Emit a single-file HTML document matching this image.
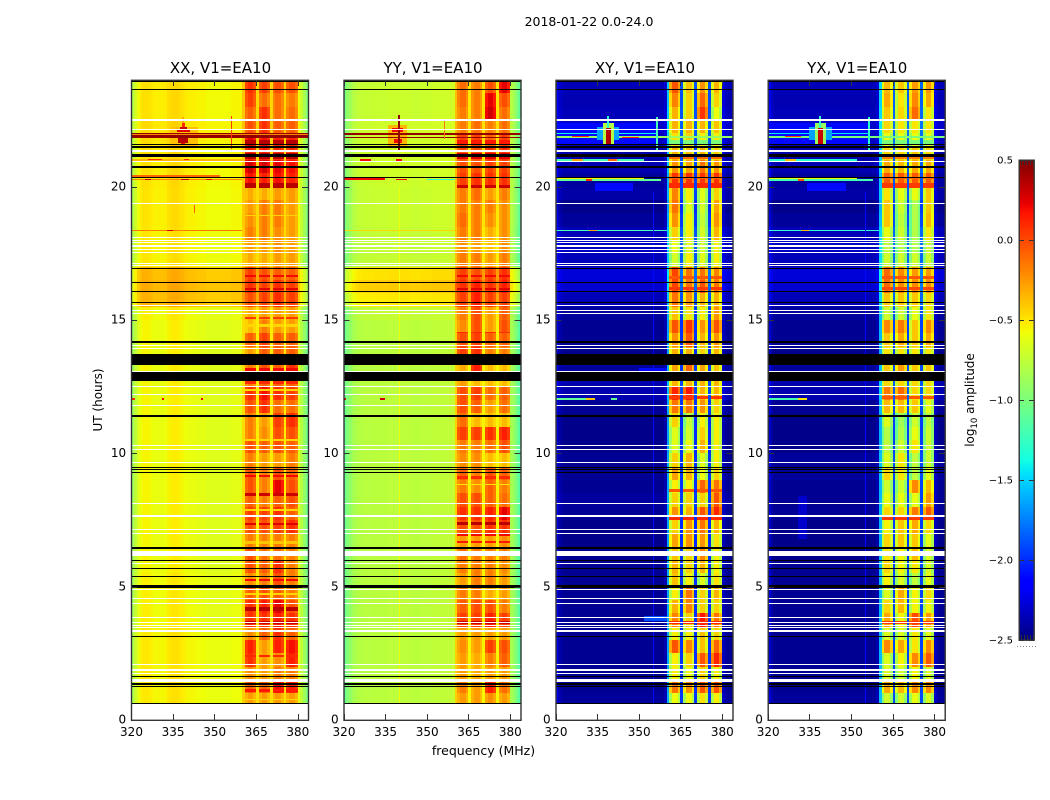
<!DOCTYPE html>
<html lang="en">
<head>
<meta charset="utf-8">
<title>2018-01-22 0.0-24.0</title>
<style>
html,body{margin:0;padding:0;background:#fff;width:1050px;height:800px;overflow:hidden}
svg{display:block}
text{font-family:"DejaVu Sans","Liberation Sans",sans-serif;fill:#000}
</style>
</head>
<body>
<svg id="chart" xmlns="http://www.w3.org/2000/svg" width="1050" height="800" viewBox="0 0 1050 800">
  <text x="589" y="26" text-anchor="middle" font-size="12.5">2018-01-22 0.0-24.0</text>
  <text x="483.5" y="755" text-anchor="middle" font-size="12.5">frequency (MHz)</text>
  <text transform="translate(102 400) rotate(-90)" text-anchor="middle" font-size="12">UT (hours)</text>
  <text transform="translate(974 400) rotate(-90)" text-anchor="middle" font-size="12">log<tspan font-size="8.5" dy="3">10</tspan><tspan dy="-3"> amplitude</tspan></text>
  <g id="panels"></g>
  <g id="colorbar"></g>
</svg>
<script>
const panelTitles = ['XX, V1=EA10','YY, V1=EA10','XY, V1=EA10','YX, V1=EA10'];
const panelKeys = ['xx','yy','xy','yx'];
const xTicks = [320,335,350,365,380];
const yTicks = [0,5,10,15,20];
const colorbarTicks = [0.5,0,-0.5,-1,-1.5,-2,-2.5];
const bandStarts = [361,366,371,376];

/* log10 amplitude per 1 MHz column, 320..383 (band columns are replaced by the band tables) */
const xxBase = [-.85,-.74,-.62,-.56,-.53,-.53,-.54,-.56,-.58,-.58,-.58,-.58,-.57,-.53,-.51,-.5,-.5,-.52,-.54,-.56,-.58,-.58,-.58,-.59,-.6,-.6,-.6,-.62,-.62,-.62,-.62,-.62,-.62,-.62,-.62,-.62,-.6,-.6,-.6,-.6,-.45,0,0,0,0,-.5,0,0,0,0,-.5,0,0,0,0,-.5,0,0,0,0,-.62,-.76,-.9,-1.02];
const yyBase = [-1.05,-.95,-.88,-.82,-.78,-.76,-.76,-.75,-.75,-.75,-.75,-.74,-.74,-.74,-.74,-.74,-.73,-.73,-.73,-.73,-.73,-.73,-.73,-.73,-.74,-.74,-.74,-.74,-.73,-.73,-.73,-.73,-.72,-.72,-.72,-.72,-.72,-.72,-.72,-.7,-.4,0,0,0,0,-.52,0,0,0,0,-.52,0,0,0,0,-.52,0,0,0,0,-.8,-.9,-1,-1.1];
const xyBase = [-2.25,-2.4,-2.45,-2.47,-2.47,-2.47,-2.47,-2.47,-2.47,-2.47,-2.47,-2.47,-2.47,-2.47,-2.47,-2.47,-2.47,-2.47,-2.47,-2.47,-2.47,-2.47,-2.47,-2.47,-2.47,-2.47,-2.47,-2.47,-2.47,-2.47,-2.47,-2.47,-2.47,-2.47,-2.47,-2.47,-2.47,-2.47,-2.47,-2.4,-1.65,0,0,0,0,-2,0,0,0,0,-2,0,0,0,0,-2,0,0,0,0,-2.35,-2.45,-2.47,-2.47];
const yxBase = [-2.3,-2.42,-2.47,-2.47,-2.47,-2.47,-2.47,-2.47,-2.47,-2.47,-2.47,-2.47,-2.47,-2.47,-2.47,-2.47,-2.47,-2.47,-2.47,-2.47,-2.47,-2.47,-2.47,-2.47,-2.47,-2.47,-2.47,-2.47,-2.47,-2.47,-2.47,-2.47,-2.47,-2.47,-2.47,-2.47,-2.47,-2.47,-2.47,-2.4,-1.6,0,0,0,0,-1.95,0,0,0,0,-1.95,0,0,0,0,-1.95,0,0,0,0,-2.35,-2.45,-2.47,-2.47];

/* offset of each 1 MHz column inside a band */
const xxShape = [-.04,.04,.04,-.06];
const yyShape = [-.04,.04,.04,-.06];
const xyShape = [-.12,.17,.17,-.08];
const yxShape = [-.18,.1,.1,-.12];

/* background offsets per half hour, top row = 23.5-24 h, last row = 0-0.5 h */
const xxBgOffset = [.05,.05,.05,.07,.07,.05,.05,.05,.04,.04,.04,.03,.03,.03,.2,.22,.2,0,-.02,-.02,-.02,-.02,-.02,-.02,-.02,-.02,-.02,-.02,-.02,-.02,-.02,-.02,-.02,-.02,-.02,-.02,-.02,0,0,0,0,.02,.02,.02,.02,.02,.02,0];
const yyBgOffset = [.02,.02,.02,.04,.04,.04,.04,.03,.02,.02,.02,0,0,0,.25,.32,.22,0,-.03,-.03,-.03,-.03,-.03,-.03,-.03,-.03,-.03,-.03,-.03,-.03,-.03,-.03,-.03,-.03,-.03,-.03,-.03,-.03,-.03,-.03,-.03,-.03,-.03,-.03,-.03,-.03,-.03,0];
const xyBgOffset = [.12,.1,.12,.16,.14,.08,.1,.05,.07,0,.04,.12,.14,.12,.2,.18,.12,.04,.02,.02,0,.04,.09,.09,.03,0,0,0,.02,.02,.02,.05,.03,0,0,.02,.02,.02,.02,.02,.02,.02,.02,.02,.02,.02,.04,0];
const yxBgOffset = [.12,.1,.12,.16,.14,.08,.1,.05,.07,0,.04,.12,.14,.12,.2,.18,.12,.04,.02,.02,0,.04,.09,.09,.03,0,0,0,.04,.04,.02,.02,.03,0,0,0,.02,.02,.02,.02,.02,.02,.02,.02,.02,.02,.04,0];

/* band amplitudes per half hour, top row = 23.5-24 h, columns = four bands */
const xxBands = [[.05,0,-.05,-.05],[0,-.15,-.15,-.2],[-.1,.05,-.15,-.15],[-.05,.05,-.1,-.1],[.2,.15,.1,.1],[.1,.1,.05,.05],[.25,.25,.2,.15],[.15,.1,.15,.1],[-.35,-.35,-.3,-.3],[-.3,-.2,-.2,-.3],[-.25,-.2,-.2,-.3],[-.2,-.2,-.25,-.3],[-.3,-.3,-.25,-.3],[-.35,-.35,-.3,-.3],[0,-.05,-.1,-.1],[.05,0,.05,0],[-.05,0,.05,0],[-.35,-.3,-.3,-.3],[-.4,-.2,-.3,-.3],[-.1,0,-.1,-.1],[-.3,-.1,-.1,-.1],[-.2,-.05,-.1,.05],[-.2,-.1,-.1,-.1],[.05,.15,.05,0],[-.05,.05,-.15,-.15],[-.2,-.3,0,.05],[-.2,-.25,-.05,-.05],[-.05,-.1,-.05,-.1],[-.2,-.3,-.3,-.2],[-.05,-.2,-.05,-.1],[-.05,-.2,.2,-.05],[-.1,-.2,-.1,-.05],[0,0,.05,-.1],[-.05,-.05,0,.05],[-.2,-.2,-.2,-.2],[-.05,-.15,-.15,-.2],[-.05,-.1,.05,-.2],[-.25,-.2,-.05,-.2],[-.1,-.05,-.1,-.2],[.05,.1,.2,-.05],[.05,.05,.1,.05],[-.25,-.1,.05,-.1],[.1,-.3,.1,.15],[.05,-.3,-.25,.1],[-.25,-.3,-.2,-.2],[-.1,-.1,.15,.1],[-.3,-.3,-.3,-.3],[-.3,-.3,-.3,-.3]];
const yyBands = [[-.15,-.2,-.05,.2],[-.15,-.2,.2,-.05],[-.2,-.2,.25,-.15],[-.2,-.15,-.2,-.15],[0,0,-.1,0],[-.05,-.05,.05,.05],[-.05,-.05,0,0],[0,.05,.05,.05],[-.2,-.15,-.3,-.2],[-.2,-.2,-.2,-.25],[-.15,-.2,-.25,-.25],[-.2,-.2,-.35,-.25],[-.25,-.3,-.4,-.25],[-.2,-.2,-.3,-.2],[0,-.05,0,.05],[.05,.1,.05,.1],[0,.1,0,0],[-.2,-.05,-.3,-.1],[-.25,-.05,-.3,-.05],[-.05,0,-.1,-.1],[0,.05,-.2,-.2],[-.35,.1,-.4,-.4],[-.3,-.4,-.4,-.4],[-.05,0,-.15,-.1],[-.05,-.1,-.3,-.15],[-.15,-.4,-.4,-.4],[0,0,.05,.1],[-.2,-.2,-.15,-.05],[-.25,-.25,-.4,-.4],[-.1,-.2,-.05,-.1],[-.2,-.25,-.1,-.2],[-.05,-.05,-.1,-.15],[.05,.05,.1,.2],[-.05,-.05,.05,.05],[-.3,-.3,-.3,-.25],[-.15,-.2,-.2,-.2],[-.2,-.2,-.2,-.25],[-.3,-.2,-.2,-.3],[-.2,-.2,-.35,-.3],[-.1,-.05,-.05,-.2],[0,0,.1,0],[-.3,-.3,-.3,-.3],[-.25,-.3,0,-.05],[-.3,-.35,-.2,-.1],[-.3,-.35,-.3,-.3],[-.2,-.3,.1,-.15],[-.3,-.3,-.25,-.3],[-.3,-.3,-.3,-.3]];
const xyBands = [[-.2,-.55,-.4,-.5],[-.35,-.6,-.25,-.6],[-.5,-.6,-.1,-.75],[-.5,-.5,-.5,-.55],[-.65,-.6,-.7,-.7],[-.5,-.55,-.5,-.6],[-.4,-.45,-.3,-.4],[-.1,-.1,-.1,-.1],[-.35,-.7,-.8,-.6],[-.3,-.8,-.85,-.45],[-.4,-.7,-.9,-.4],[-.6,-.7,-.85,-.5],[-.75,-.8,-.85,-.7],[-.85,-.7,-.8,-.7],[-.15,-.3,-.3,-.35],[-.15,-.3,-.2,-.3],[-.3,-.4,-.5,-.5],[-.55,-.65,-.7,-.4],[-.2,-.1,-.4,-.2],[-.4,-.2,-.5,-.4],[-.5,-.5,-.6,-.5],[-.45,-.25,-.45,-.55],[-.5,-.5,-.5,-.5],[-.05,0,-.5,-.5],[-.3,-.3,-.4,-.6],[-.6,-.9,-.7,-.7],[-.8,-.85,-.6,-.7],[-.8,-.75,-.5,-.7],[-.6,-.5,-.8,-.7],[-.45,-.5,-.75,-.6],[-.7,-.7,-.25,-.3],[-.6,-.6,-.6,-.2],[-.4,-.5,-.2,-.05],[-.6,-.4,-.3,-.5],[-.45,-.4,-.4,-.65],[-.55,-.6,-.35,-.7],[-.5,-.6,-.5,-.7],[-.55,-.7,-.8,-.65],[-.7,-.3,-.6,-.5],[-.5,-.35,-.6,-.6],[-.35,-.6,0,-.3],[-.7,-.7,-.55,-.6],[-.2,-.35,-.55,-.25],[-.7,-.6,-.2,-.05],[-.7,-.75,-.6,-.7],[-.3,-.4,-.2,-.2],[-.75,-.75,-.65,-.7],[-.75,-.75,-.65,-.7]];
const yxBands = [[-.45,-.5,-.35,-.35],[-.4,-.6,-.3,-.4],[-.5,-.55,-.2,-.6],[-.55,-.6,-.6,-.6],[-.7,-.7,-.7,-.7],[-.55,-.55,-.5,-.55],[-.4,-.45,-.4,-.4],[-.15,-.15,-.15,-.15],[-.6,-.7,-.7,-.5],[-.5,-.8,-.9,-.5],[-.5,-.85,-.9,-.45],[-.7,-.8,-.9,-.6],[-.85,-.9,-.9,-.8],[-.8,-.8,-.8,-.8],[-.2,-.3,-.35,-.35],[-.2,-.3,-.3,-.3],[-.5,-.5,-.5,-.55],[-.8,-.8,-.7,-.6],[-.3,-.25,-.5,-.3],[-.5,-.4,-.5,-.4],[-.6,-.6,-.6,-.6],[-.5,-.35,-.5,-.5],[-.55,-.55,-.55,-.55],[-.25,-.2,-.55,-.55],[-.45,-.45,-.5,-.7],[-.75,-.95,-.8,-.85],[-.9,-.9,-.7,-.8],[-.85,-.8,-.6,-.8],[-.75,-.6,-.85,-.8],[-.55,-.6,-.85,-.7],[-.8,-.8,-.3,-.45],[-.7,-.7,-.7,-.35],[-.55,-.55,-.25,-.15],[-.65,-.5,-.4,-.55],[-.55,-.5,-.5,-.7],[-.6,-.65,-.45,-.75],[-.55,-.65,-.6,-.75],[-.65,-.75,-.85,-.7],[-.75,-.4,-.65,-.55],[-.55,-.45,-.65,-.65],[-.4,-.65,-.1,-.35],[-.75,-.75,-.6,-.7],[-.3,-.4,-.6,-.3],[-.75,-.65,-.3,-.15],[-.75,-.8,-.65,-.75],[-.4,-.45,-.3,-.3],[-.8,-.8,-.7,-.75],[-.8,-.8,-.7,-.75]];

/* narrow dark or bright streaks across the bands: start hour, end hour, amplitude */
const xxStreaks = [[21.6,21.75,.35],[21.05,21.25,.35],[19.96,20.12,.35],[18.9,18.95,-.45],[16.6,16.7,.2],[16.12,16.2,.25],[14.75,14.85,-.45],[15.05,15.12,.05],[13.1,13.2,.2],[12.6,12.7,.1],[12.35,12.4,-.45],[10.45,10.55,-.45],[9.1,9.2,.2],[8.4,8.5,.3],[7.85,7.9,-.45],[7.3,7.4,.25],[6.6,6.7,-.4],[5.2,5.3,.2],[4.7,4.76,-.45],[4.1,4.25,.35],[3.6,3.7,.3],[2.35,2.45,.1],[1.05,1.15,.15],[.75,.8,-.45]];
const yyStreaks = [[21.6,21.75,.15],[21.05,21.25,.25],[19.96,20.06,.3],[16.6,16.7,.2],[16.12,16.2,.25],[14.5,14.56,.1],[9.05,9.15,.1],[8.8,8.86,-.5],[7.3,7.42,.35],[7.6,7.7,.3],[6.9,6.96,.2],[6.65,6.72,.15],[3.6,3.72,.3]];
const xyStreaks = [[21.6,21.75,-1],[21.05,21.2,-.1],[20.3,20.38,-.1],[19.96,20.12,.1],[16.55,16.65,-.05],[16.12,16.22,.05],[12.05,12.15,.05],[8.55,8.65,-.05],[7.5,7.6,.1],[3.6,3.72,.1]];
const yxStreaks = [[21.6,21.75,-1],[21.05,21.2,-.15],[20.3,20.38,-.1],[19.96,20.12,.05],[16.55,16.65,-.05],[16.12,16.22,0],[12.05,12.15,-.05],[7.5,7.6,.05],[3.6,3.72,.05]];

/* interference boxes: start hour, end hour, start MHz, end MHz, amplitude */
const xxRfi = [[21.5,22.25,334,344,-.38],[21.81,22.03,320,384,.45],[21.93,21.97,320,384,-.2],[22.05,22.15,336.5,341.2,.25],[22.15,22.25,337.5,340.2,.3],[22.25,22.4,338.3,339.3,.1],[22.4,22.6,338.5,339,-.3],[21.65,21.81,337,340.6,.35],[21.55,21.65,338,339.5,.2],[21.4,22.65,356.1,356.5,.05],[20.98,21.02,320,360,-.35],[21,21.03,326,331,.1],[21,21.03,339,341,.1],[20.25,20.29,320,360,-.2],[20.25,20.3,325,327,.3],[20.25,20.3,338,341,.3],[20.25,20.3,347,349,.2],[20.38,20.42,320,352,-.1],[18.33,18.39,320,360,-.15],[18.33,18.39,333,335,.25],[12,12.06,320,321.5,.1],[12,12.06,331,332,.2],[12,12.06,345,346,.2],[19,19.3,342.6,342.9,-.1]];
const yyRfi = [[21.5,22.3,336,343,-.35],[21.93,22.03,320,384,.45],[21.81,21.88,320,384,.45],[22.05,22.2,337.5,341.5,.2],[21.65,21.8,338,341,.2],[21.3,22.7,339.6,340.3,.45],[21.8,22.5,356.1,356.7,-.15],[20.98,21.02,326,330,.2],[20.98,21.02,339,341,.2],[20.25,20.32,320,335,.2],[20.25,20.3,339,343,.2],[20.25,20.29,350,360,-1.3],[18.33,18.39,320,360,-.45],[12,12.06,320,321,.3],[12,12.06,333,335,.3],[0.63,20,340,340.35,-.58]];
const xyRfi = [[21.6,22.4,320,356,-2.1],[21.97,22.03,320,356,-1.4],[21.84,21.9,320,384,-.9],[21.88,21.9,326,332,.1],[21.84,21.88,344,350,.1],[21.75,22.25,335,343,-1.65],[21.6,22.4,337,341,-.8],[21.55,22.2,338,340,.35],[22.2,22.65,338.6,339.3,-1.3],[21.3,22.6,356.2,356.8,-1.2],[20.97,21.02,320,352,-1.2],[20.97,21.02,326,330,-.3],[20.97,21.02,339,342,-.1],[20.3,20.36,320,352,-.55],[20.22,20.27,320,358,-1.1],[20.22,20.27,331,333,.1],[19.85,20.15,334,348,-2.1],[18.33,18.39,320,360,-1.2],[18.33,18.39,332,335,-.3],[12,12.06,320,334,-1.1],[12,12.06,331,334,-.4],[12,12.06,340,342,-1.1],[0.63,19.8,355,355.5,-2.1],[12.9,13.2,350,360,-2.1],[3.7,3.9,352,360,-1.9]];
const yxRfi = [[21.6,22.4,320,356,-2.1],[21.97,22.03,320,356,-1.45],[21.84,21.9,320,384,-1],[21.88,21.9,326,332,.05],[21.75,22.25,335,343,-1.65],[21.6,22.4,337,341,-.9],[21.55,22.2,338,340,.3],[22.2,22.65,338.6,339.3,-1.3],[21.3,22.6,356.2,356.8,-1.3],[20.97,21.02,320,352,-1.3],[20.97,21.02,326,330,-.4],[20.3,20.36,320,352,-.6],[20.22,20.27,320,358,-1.2],[20.22,20.27,331,333,0],[19.85,20.15,334,348,-2.1],[18.33,18.39,320,360,-1.3],[18.33,18.39,332,335,-.35],[12,12.06,320,334,-1.2],[12,12.06,331,334,-.5],[0.63,19.8,355,355.5,-2.1],[6.8,8.4,331,334,-2.3]];

/* flagged time ranges, start and end hour */
const blackFlags = [[23.93,24],[23.63,23.67],[21.55,21.59],[21.46,21.53],[21.19,21.23],[21.13,21.17],[20.71,20.78],[20.33,20.37],[16.9,16.94],[16.39,16.43],[16.04,16.08],[15.63,15.67],[14.15,14.22],[13.31,13.73],[12.72,13.05],[11.37,11.44],[9.44,9.48],[9.37,9.41],[9.27,9.31],[6.42,6.49],[5.95,5.99],[5.67,5.71],[5.37,5.41],[4.95,5.06],[3.12,3.16],[1.62,1.66],[1.33,1.37],[1.22,1.26],[.61,.65]];
const whiteFlags = [[22.48,22.52],[22.13,22.17],[21.3,21.39],[20.91,20.95],[19.36,19.4],[18.07,18.11],[17.97,18.01],[17.87,17.91],[17.79,17.83],[17.72,17.76],[17.62,17.66],[17.5,17.54],[17.09,17.13],[17.02,17.06],[15.54,15.58],[15.33,15.37],[15.21,15.25],[14.04,14.08],[13.92,13.96],[13.06,13.1],[12.49,12.53],[12.19,12.23],[11.78,11.82],[10.28,10.32],[10.13,10.17],[9.64,9.68],[8.11,8.15],[7.63,7.67],[7.13,7.17],[6.98,7.02],[6.16,6.35],[5.86,5.9],[4.86,4.9],[4.54,4.58],[4.36,4.4],[3.81,3.88],[3.63,3.67],[3.54,3.58],[3.44,3.48],[3.31,3.38],[2.07,2.11],[1.84,1.91],[1.73,1.77],[1.43,1.54],[0,.61]];

const panelData = {
  xx:{base:xxBase,bg:xxBgOffset,bands:xxBands,shape:xxShape,streaks:xxStreaks,rfi:xxRfi},
  yy:{base:yyBase,bg:yyBgOffset,bands:yyBands,shape:yyShape,streaks:yyStreaks,rfi:yyRfi},
  xy:{base:xyBase,bg:xyBgOffset,bands:xyBands,shape:xyShape,streaks:xyStreaks,rfi:xyRfi},
  yx:{base:yxBase,bg:yxBgOffset,bands:yxBands,shape:yxShape,streaks:yxStreaks,rfi:yxRfi}
};

const panelLeft = [131.2,343.7,555.7,767.9];
const panelWidth = 177;
const plotTop = 80, plotBottom = 720;
const fMin = 320, fMax = 383.84, hMin = 0, hMax = 24;
const vMin = -2.5, vMax = 0.5;
const NS = 'http://www.w3.org/2000/svg';

function yOf(h){ return plotBottom - (h - hMin) / (hMax - hMin) * (plotBottom - plotTop); }
function xOf(f, left){ return left + (Math.min(f, fMax) - fMin) / (fMax - fMin) * panelWidth; }
function clamp(v){ return Math.max(0, Math.min(1, v)); }
function jet(t){
  t = clamp(t);
  const r = t < .35 ? 0 : t < .66 ? (t - .35) / .31 : t < .89 ? 1 : 1 - (t - .89) / .11 * .5;
  const g = t < .125 ? 0 : t < .375 ? (t - .125) / .25 : t < .64 ? 1 : t < .91 ? 1 - (t - .64) / .27 : 0;
  const b = t < .11 ? .5 + t / .11 * .5 : t < .34 ? 1 : t < .65 ? 1 - (t - .34) / .31 : 0;
  return 'rgb(' + Math.round(r * 255) + ',' + Math.round(g * 255) + ',' + Math.round(b * 255) + ')';
}
function colorOf(v){ return jet((v - vMin) / (vMax - vMin)); }
function bandIndex(f){
  for (let b = 0; b < bandStarts.length; b++) { if (f >= bandStarts[b] && f < bandStarts[b] + 4) return b; }
  return -1;
}
function addRect(parent, x0, x1, y0, y1, fill){
  const r = document.createElementNS(NS, 'rect');
  const ax = Math.round(x0), ay = Math.round(y0);
  r.setAttribute('x', ax);
  r.setAttribute('y', ay);
  r.setAttribute('width', Math.max(1, Math.round(x1) - ax));
  r.setAttribute('height', Math.max(1, Math.round(y1) - ay));
  r.setAttribute('fill', fill);
  r.setAttribute('shape-rendering', 'crispEdges');
  parent.appendChild(r);
  return r;
}
function addLine(parent, x1, y1, x2, y2, w){
  const l = document.createElementNS(NS, 'line');
  l.setAttribute('x1', x1);
  l.setAttribute('y1', y1);
  l.setAttribute('x2', x2);
  l.setAttribute('y2', y2);
  l.setAttribute('stroke', '#333');
  l.setAttribute('stroke-width', w || 1);
  l.setAttribute('shape-rendering', 'crispEdges');
  parent.appendChild(l);
  return l;
}
function addText(parent, x, y, anchor, size, str){
  const t = document.createElementNS(NS, 'text');
  t.setAttribute('x', x);
  t.setAttribute('y', y);
  t.setAttribute('text-anchor', anchor);
  t.setAttribute('font-size', size);
  t.textContent = str;
  parent.appendChild(t);
  return t;
}

function drawPanel(root, p){
  const key = panelKeys[p], d = panelData[key], left = panelLeft[p], right = left + panelWidth;
  const g = document.createElementNS(NS, 'g');
  
  
  root.appendChild(g);

  d.bands.forEach(function(row, i){
    const hTop = hMax - 0.5 * i, hBottom = hTop - 0.5;
    d.base.forEach(function(baseValue, c){
      const f = fMin + c, b = bandIndex(f);
      let v = baseValue + d.bg[i];
      if (b >= 0) { v = row[b] + d.shape[f - bandStarts[b]]; }
      const cell = addRect(g, xOf(f, left), xOf(f + 1, left), yOf(hTop), yOf(hBottom), colorOf(v));
      
      
    });
  });

  d.streaks.forEach(function(s){
    bandStarts.forEach(function(f){
      const streak = addRect(g, xOf(f, left), xOf(f + 4, left), yOf(s[1]), yOf(s[0]), colorOf(s[2]));
      
      
    });
  });

  d.rfi.forEach(function(s){
    const box = addRect(g, xOf(s[2], left), xOf(s[3], left), yOf(s[1]), yOf(s[0]), colorOf(s[4]));
    
    
  });

  whiteFlags.forEach(function(s){
    const flag = addRect(g, left, right, yOf(s[1]), yOf(s[0]), '#fff');
    
    
  });
  blackFlags.forEach(function(s){
    const flag = addRect(g, left, right, yOf(s[1]), yOf(s[0]), '#000');
    
    
  });

  const frame = document.createElementNS(NS, 'rect');
  frame.setAttribute('x', left + 0.3);
  frame.setAttribute('y', plotTop + 0.3);
  frame.setAttribute('width', panelWidth);
  frame.setAttribute('height', plotBottom - plotTop);
  frame.setAttribute('fill', 'none');
  frame.setAttribute('stroke', '#333');
  frame.setAttribute('stroke-width', 1.4);
  
  
  g.appendChild(frame);

  xTicks.forEach(function(f){
    const x = Math.round(xOf(f, left)) + 0.5;
    const t1 = addLine(g, x, plotBottom, x, plotBottom - 6);
    
    
    const t2 = addLine(g, x, plotTop, x, plotTop + 6);
    
    
    const label = addText(g, xOf(f, left) + 0.3, 736, 'middle', 12, String(f));
    
    
  });
  yTicks.forEach(function(h){
    const y = Math.round(yOf(h)) + 0.5;
    const t1 = addLine(g, left, y, left + 6, y);
    
    
    const t2 = addLine(g, right, y, right - 6, y);
    
    
    const label = addText(g, left - 5, yOf(h) + 3.7, 'end', 12, String(h));
    
    
  });

  const title = addText(g, left + panelWidth / 2 + 0.8, 73, 'middle', 15, panelTitles[p]);
  
  
}

function drawColorbar(root){
  const left = 1019, right = 1034, top = 160, bottom = 640;
  function yOfValue(v){ return bottom - (v - vMin) / (vMax - vMin) * (bottom - top); }
  for (let y = top; y < bottom; y += 2) {
    const v = vMin + (bottom - y - 1) / (bottom - top) * (vMax - vMin);
    const seg = addRect(root, left, right, y, y + 2, colorOf(v));
    
    
  }
  const frame = document.createElementNS(NS, 'rect');
  frame.setAttribute('x', left + 0.2);
  frame.setAttribute('y', top + 0.2);
  frame.setAttribute('width', right - left);
  frame.setAttribute('height', bottom - top);
  frame.setAttribute('fill', 'none');
  frame.setAttribute('stroke', '#333');
  frame.setAttribute('stroke-width', 1.4);
  
  
  root.appendChild(frame);
  colorbarTicks.forEach(function(v){
    const y = yOfValue(v);
    const label = addText(root, 1013, y + 3.5, 'end', 10, (v < 0 ? '\u2212' : '') + Math.abs(v).toFixed(1));
    
    
    const ty = Math.round(y) + 0.5;
    const t1 = addLine(root, left, ty, left + 5, ty);
    
    
    const t2 = addLine(root, right, ty, right - 5, ty);
    
    
  });
  for (let x = left + 2; x < right; x += 3) {
    const top1 = addLine(root, x + 0.5, top, x + 0.5, top + 5);
    
    
    const bottom1 = addLine(root, x + 0.5, bottom, x + 0.5, bottom - 5);
    
    
  }
  const dots = addLine(root, 1017, 646.5, 1036, 646.5);
  dots.setAttribute('stroke', '#888');
  dots.setAttribute('stroke-dasharray', '1 2');
  
  
}

const panelsRoot = document.getElementById('panels');
panelKeys.forEach(function(k, p){ drawPanel(panelsRoot, p); });
drawColorbar(document.getElementById('colorbar'));
</script>
</body>
</html>
